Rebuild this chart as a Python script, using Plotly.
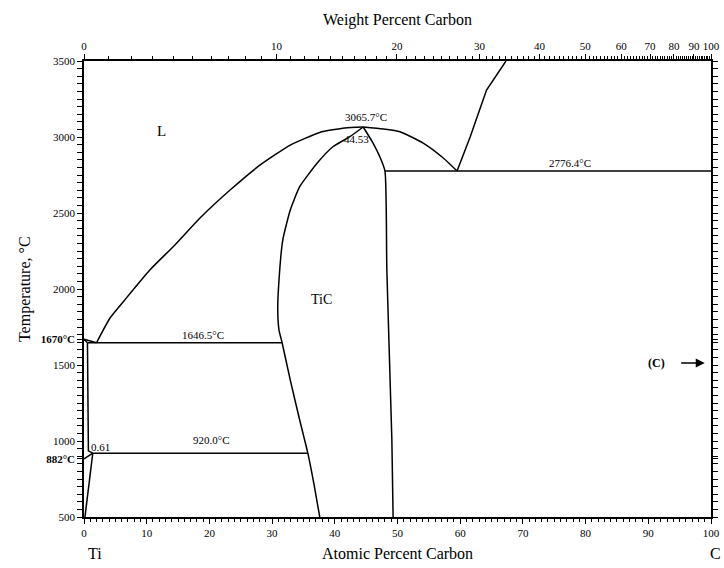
import plotly.graph_objects as go

# ---------------- data (atomic % C, temperature °C) ----------------
liq_left_x = [2.0, 4.15, 6.5, 10.5, 14.5, 18.5, 23.3, 28.1, 32.9, 37.6, 41.6, 44.53]
liq_left_T = [1646.5, 1809, 1928, 2125, 2290, 2467, 2651, 2816, 2947, 3030, 3060, 3065.7]

liq_right_x = [44.53, 47.7, 50.4, 54.1, 57.3, 59.5]
liq_right_T = [3065.7, 3053, 3035, 2960, 2862, 2776.4]

graphite_liq_x = [59.5, 61.6, 64.2, 67.3]
graphite_liq_T = [2776.4, 3002, 3309, 3500]

tic_left_x = [44.53, 42.4, 39.7, 37.2, 34.4, 32.9, 31.7, 31.1, 30.9, 31.1, 31.6,
              32.9, 34.4, 35.7, 36.7, 37.6]
tic_left_T = [3065.7, 3002, 2936, 2829, 2673, 2520, 2322, 2059, 1862, 1730, 1646.5,
              1401, 1138, 920, 711, 500]

tic_right_x = [44.53, 46.1, 47.2, 48.0, 48.3, 49.1, 49.3]
tic_right_T = [3065.7, 2960, 2868, 2776.4, 2125, 1007, 500]

eut_x = [48.0, 100]
eut_T = [2776.4, 2776.4]

peri_x = [0.55, 31.6]
peri_T = [1646.5, 1646.5]

eutd_x = [1.4, 35.7]
eutd_T = [920.0, 920.0]

ti_liq_x = [0, 2.0]
ti_liq_T = [1670, 1646.5]
ti_sol_x = [0, 0.55]
ti_sol_T = [1670, 1646.5]
beta_x = [0.55, 0.7, 1.4]
beta_T = [1646.5, 935, 920]
alpha_up_x = [0, 1.4]
alpha_up_T = [882, 920]
alpha_solv_x = [1.4, 0.15]
alpha_solv_T = [920, 500]

wt_ticks = [0, 10, 20, 30, 40, 50, 60, 70, 80, 90, 100]
wt_minor = list(range(1, 100))
y_ticks = [500, 1000, 1500, 2000, 2500, 3000, 3500]
y_extra = [1670, 882]
y_extra_labels = ["<b>1670°C</b>", "<b>882°C</b>"]


def wt_to_at(w):
    mc, mti = 12.011, 47.867
    if w >= 100:
        return 100.0
    a = w / mc
    b = (100 - w) / mti
    return 100 * a / (a + b)


FONT = "Liberation Serif"
fig = go.Figure()

curved = [(liq_left_x, liq_left_T), (liq_right_x, liq_right_T),
          (tic_left_x, tic_left_T), (tic_right_x, tic_right_T)]
straight = [(graphite_liq_x, graphite_liq_T), (eut_x, eut_T), (peri_x, peri_T),
            (eutd_x, eutd_T), (ti_liq_x, ti_liq_T), (ti_sol_x, ti_sol_T),
            (beta_x, beta_T), (alpha_up_x, alpha_up_T), (alpha_solv_x, alpha_solv_T)]
for xs, ts in curved:
    fig.add_trace(go.Scatter(x=xs, y=ts, mode="lines",
                             line=dict(color="black", width=1.5, shape="spline", smoothing=0.5),
                             showlegend=False, hoverinfo="skip"))
for xs, ts in straight:
    fig.add_trace(go.Scatter(x=xs, y=ts, mode="lines",
                             line=dict(color="black", width=1.5),
                             showlegend=False, hoverinfo="skip"))

# invisible trace on top axis
fig.add_trace(go.Scatter(x=[0, 100], y=[500, 500], xaxis="x2", mode="markers",
                         marker=dict(opacity=0), showlegend=False, hoverinfo="skip"))

tickfont = dict(family=FONT, size=11, color="black")

fig.update_layout(
    width=724, height=568,
    margin=dict(l=84, r=13, t=61, b=51),
    plot_bgcolor="white", paper_bgcolor="white",
    font=dict(family=FONT, color="black"),
    xaxis=dict(range=[0, 100], tickvals=list(range(0, 101, 10)), showgrid=False,
               zeroline=False, showline=True, linecolor="black", linewidth=1.5,
               ticks="outside", ticklen=5, tickcolor="black", tickfont=tickfont,
               minor=dict(dtick=1, ticks="outside", ticklen=3, tickcolor="black"),
               mirror=False, automargin=False),
    xaxis2=dict(range=[0, 100], overlaying="x", side="top",
                tickmode="array", tickvals=[wt_to_at(w) for w in wt_ticks],
                ticktext=[str(w) for w in wt_ticks], showgrid=False, zeroline=False,
                showline=True, linecolor="black", linewidth=1.5,
                ticks="outside", ticklen=5, tickcolor="black", tickfont=tickfont,
                automargin=False,
                minor=dict(tickmode="array", tickvals=[wt_to_at(w) for w in wt_minor],
                           ticks="outside", ticklen=3, tickcolor="black")),
    yaxis=dict(range=[500, 3500], tickmode="array",
               tickvals=y_ticks + y_extra,
               ticktext=[str(v) for v in y_ticks] + y_extra_labels,
               showgrid=False, zeroline=False, showline=True, linecolor="black",
               linewidth=1.5, ticks="outside", ticklen=5, tickcolor="black",
               tickfont=tickfont, mirror="allticks", automargin=False,
               minor=dict(tickmode="array", tickvals=list(range(550, 3500, 50)),
                          ticks="outside", ticklen=3, tickcolor="black")),
)

ann = [
    dict(x=12.3, y=3039, text="L", size=15),
    dict(x=45.0, y=3132, text="3065.7°C", size=11),
    dict(x=43.4, y=2985, text="44.53", size=11),
    dict(x=77.5, y=2832, text="2776.4°C", size=11),
    dict(x=37.8, y=1928, text="TiC", size=14),
    dict(x=19.0, y=1700, text="1646.5°C", size=11),
    dict(x=20.4, y=1007, text="920.0°C", size=11),
    dict(x=2.6, y=963, text="0.61", size=11),
    dict(x=91.3, y=1513, text="<b>(C)</b>", size=12),
]
for a in ann:
    fig.add_annotation(x=a["x"], y=a["y"], text=a["text"], showarrow=False,
                       xanchor="center", yanchor="middle",
                       font=dict(family=FONT, size=a["size"], color="black"))

fig.add_annotation(x=99.0, y=1513, ax=95.0, ay=1513, axref="x", ayref="y",
                   text="", showarrow=True, arrowhead=2, arrowsize=1.2,
                   arrowwidth=1.5, arrowcolor="black")

paper_txt = [
    dict(x=0.5, y=-0.079, text="Atomic Percent Carbon", size=16),
    dict(x=0.017, y=-0.079, text="Ti", size=16),
    dict(x=1.0075, y=-0.079, text="C", size=16),
    dict(x=0.5, y=1.09, text="Weight Percent Carbon", size=16),
]
for a in paper_txt:
    fig.add_annotation(x=a["x"], y=a["y"], xref="paper", yref="paper", text=a["text"],
                       showarrow=False, xanchor="center", yanchor="middle",
                       font=dict(family=FONT, size=a["size"], color="black"))

fig.add_annotation(x=-0.094, y=0.5, xref="paper", yref="paper",
                   text="Temperature, °C", textangle=-90, showarrow=False,
                   xanchor="center", yanchor="middle",
                   font=dict(family=FONT, size=16, color="black"))

fig.write_html("out.html", config={"displayModeBar": False},
               post_script="document.body.style.margin='0';")
